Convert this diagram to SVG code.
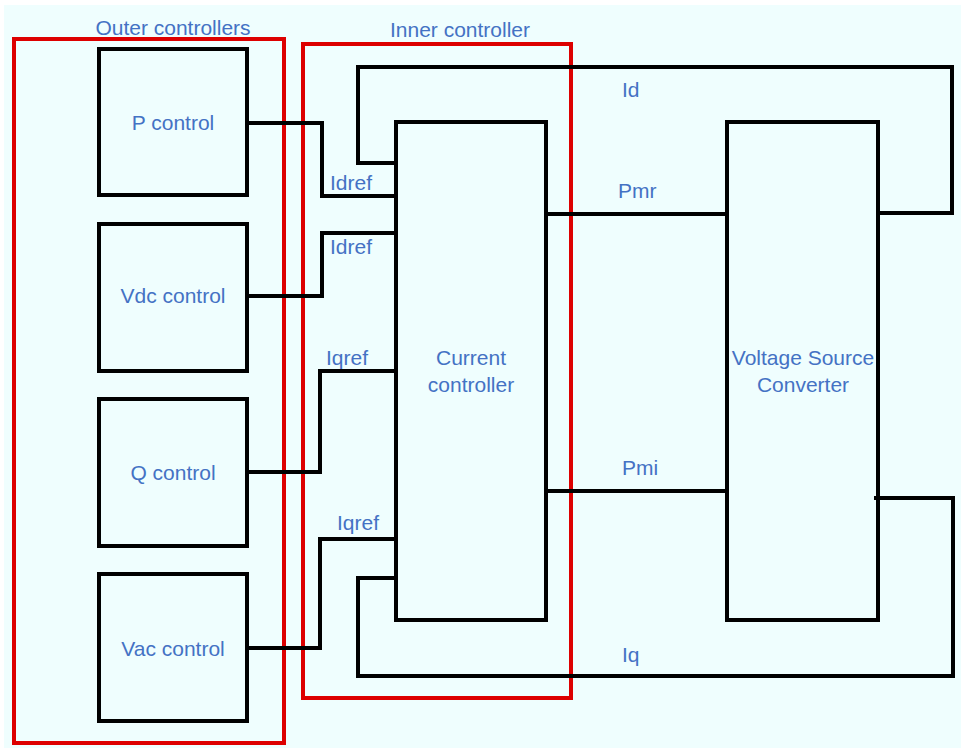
<svg xmlns="http://www.w3.org/2000/svg" width="961" height="748" viewBox="0 0 961 748">
<style>
.box{fill:none;stroke:#000;stroke-width:4}
.grp{fill:none;stroke:#dd0000;stroke-width:4}
.wire{fill:none;stroke:#000;stroke-width:4;stroke-linejoin:miter}
text{font-family:"Liberation Sans",Arial,sans-serif;font-size:21px;fill:#4472c4}
.c{text-anchor:middle}
</style>
<rect x="0" y="0" width="961" height="748" fill="#fff"/>
<rect x="4" y="5" width="957" height="743" fill="#effefe"/>
<g id="outer-controllers">
<rect class="grp" x="14" y="39" width="270" height="704"/>
<text class="c" x="173" y="35">Outer controllers</text>
</g>
<g id="inner-controller">
<rect class="grp" x="303" y="44" width="268" height="654"/>
<text class="c" x="460" y="37">Inner controller</text>
</g>
<g id="connectors">
<polyline class="wire" points="247,123 322,123 322,196 396,196"/>
<polyline class="wire" points="247,296 322,296 322,233 396,233"/>
<polyline class="wire" points="247,472 320,472 320,371 396,371"/>
<polyline class="wire" points="247,648 320,648 320,539 396,539"/>
<polyline class="wire" points="396,163 358,163 358,67 952,67 952,213 878,213"/>
<line class="wire" x1="546" y1="214" x2="727" y2="214"/>
<line class="wire" x1="546" y1="491" x2="727" y2="491"/>
<polyline class="wire" points="874,498 953,498 953,676 358,676 358,578 396,578"/>
<text x="330" y="190">Idref</text>
<text x="330" y="254">Idref</text>
<text x="326" y="365">Iqref</text>
<text x="337" y="530">Iqref</text>
<text x="622" y="97">Id</text>
<text x="618" y="198">Pmr</text>
<text x="622" y="475">Pmi</text>
<text x="622" y="662">Iq</text>
</g>
<g id="p-control">
<rect class="box" x="99" y="49" width="148" height="146"/>
<text class="c" x="173" y="130">P control</text>
</g>
<g id="vdc-control">
<rect class="box" x="99" y="224" width="148" height="147"/>
<text class="c" x="173" y="303">Vdc control</text>
</g>
<g id="q-control">
<rect class="box" x="99" y="399" width="148" height="147"/>
<text class="c" x="173" y="480">Q control</text>
</g>
<g id="vac-control">
<rect class="box" x="99" y="574" width="148" height="147"/>
<text class="c" x="173" y="656">Vac control</text>
</g>
<g id="current-controller">
<rect class="box" x="396" y="122" width="150" height="498"/>
<text class="c" x="471" y="365">Current</text>
<text class="c" x="471" y="392">controller</text>
</g>
<g id="voltage-source-converter">
<rect class="box" x="727" y="122" width="151" height="498"/>
<text class="c" x="803" y="365">Voltage Source</text>
<text class="c" x="803" y="392">Converter</text>
</g>
</svg>
